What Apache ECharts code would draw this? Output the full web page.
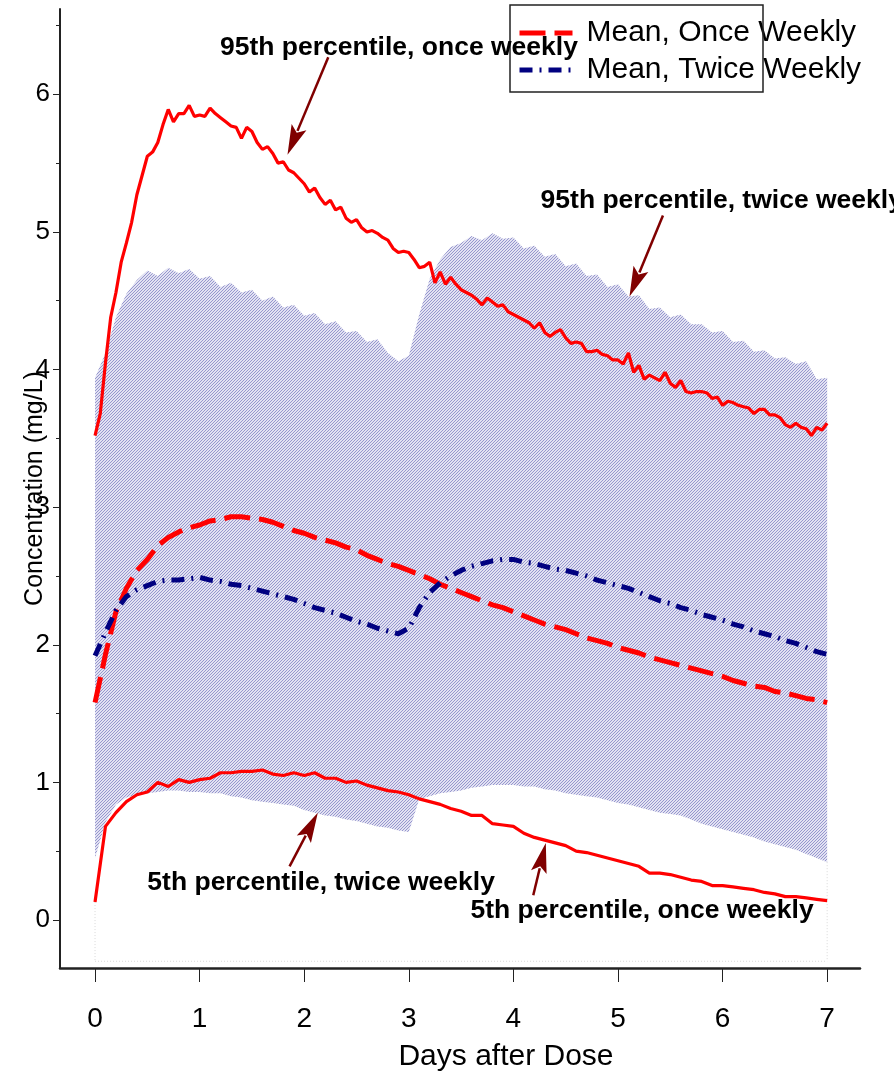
<!DOCTYPE html>
<html><head><meta charset="utf-8">
<script src="https://cdn.jsdelivr.net/npm/echarts@6/dist/echarts.min.js"></script>
<style>html,body{margin:0;padding:0;background:#fff}#c{width:894px;height:1072px}</style>
</head><body><div id="c"></div>
<script>
// ---------- DATA ----------
const days = [0,0.1,0.2,0.3,0.4,0.5,0.6,0.7,0.8,0.9,1,1.1,1.2,1.3,1.4,1.5,1.6,1.7,1.8,1.9,2,2.1,2.2,2.3,2.4,2.5,2.6,2.7,2.8,2.9,3,3.1,3.2,3.3,3.4,3.5,3.6,3.7,3.8,3.9,4,4.1,4.2,4.3,4.4,4.5,4.6,4.7,4.8,4.9,5,5.1,5.2,5.3,5.4,5.5,5.6,5.7,5.8,5.9,6,6.1,6.2,6.3,6.4,6.5,6.6,6.7,6.8,6.9,7];
const daysFine = [0,0.05,0.1,0.15,0.2,0.25,0.3,0.35,0.4,0.45,0.5,0.55,0.6,0.65,0.7,0.75,0.8,0.85,0.9,0.95,1,1.05,1.1,1.15,1.2,1.25,1.3,1.35,1.4,1.45,1.5,1.55,1.6,1.65,1.7,1.75,1.8,1.85,1.9,1.95,2,2.05,2.1,2.15,2.2,2.25,2.3,2.35,2.4,2.45,2.5,2.55,2.6,2.65,2.7,2.75,2.8,2.85,2.9,2.95,3,3.05,3.1,3.15,3.2,3.25,3.3,3.35,3.4,3.45,3.5,3.55,3.6,3.65,3.7,3.75,3.8,3.85,3.9,3.95,4,4.05,4.1,4.15,4.2,4.25,4.3,4.35,4.4,4.45,4.5,4.55,4.6,4.65,4.7,4.75,4.8,4.85,4.9,4.95,5,5.05,5.1,5.15,5.2,5.25,5.3,5.35,5.4,5.45,5.5,5.55,5.6,5.65,5.7,5.75,5.8,5.85,5.9,5.95,6,6.05,6.1,6.15,6.2,6.25,6.3,6.35,6.4,6.45,6.5,6.55,6.6,6.65,6.7,6.75,6.8,6.85,6.9,6.95,7];

// 95th percentile, once weekly (sampled every 0.05 day)
const p95Once = [3.52,3.68,4.05,4.38,4.56,4.78,4.92,5.07,5.27,5.41,
 5.55,5.58,5.65,5.78,5.89,5.80,5.86,5.86,5.92,5.84,
 5.85,5.84,5.90,5.86,5.83,5.80,5.77,5.76,5.68,5.76,
 5.73,5.65,5.60,5.62,5.57,5.50,5.51,5.45,5.43,5.39,
 5.35,5.29,5.32,5.25,5.20,5.23,5.16,5.18,5.10,5.07,
 5.09,5.03,5.00,5.01,4.99,4.96,4.94,4.88,4.85,4.86,
 4.85,4.80,4.74,4.75,4.78,4.63,4.71,4.62,4.67,4.62,
 4.58,4.56,4.54,4.51,4.47,4.52,4.49,4.46,4.47,4.42,
 4.40,4.38,4.36,4.34,4.30,4.34,4.27,4.24,4.27,4.29,
 4.23,4.19,4.20,4.19,4.13,4.13,4.14,4.11,4.10,4.07,
 4.07,4.04,4.12,3.98,4.03,3.93,3.96,3.94,3.92,3.98,
 3.90,3.87,3.92,3.84,3.83,3.84,3.84,3.83,3.79,3.80,
 3.74,3.77,3.76,3.74,3.73,3.72,3.68,3.71,3.71,3.67,
 3.67,3.65,3.60,3.58,3.61,3.58,3.57,3.52,3.58,3.56,
 3.61];

// 5th percentile, once weekly
const p5Once = [0.13,0.68,0.78,0.86,0.91,0.93,1.00,0.97,1.02,1.00,
 1.02,1.03,1.07,1.07,1.08,1.08,1.09,1.06,1.05,1.07,
 1.05,1.07,1.03,1.03,1.00,1.01,0.98,0.96,0.94,0.93,
 0.91,0.88,0.86,0.84,0.81,0.79,0.76,0.76,0.70,0.69,
 0.68,0.63,0.60,0.58,0.56,0.54,0.50,0.49,0.47,0.45,
 0.43,0.41,0.39,0.34,0.34,0.33,0.31,0.29,0.28,0.25,
 0.25,0.24,0.23,0.22,0.20,0.19,0.17,0.17,0.16,0.15,
 0.14];

// 5th / 95th percentile, twice weekly (shaded band)
const p5Twice = [0.45,0.71,0.84,0.89,0.91,0.92,0.93,0.94,0.94,0.93,
 0.93,0.92,0.92,0.90,0.89,0.87,0.86,0.85,0.84,0.83,
 0.80,0.78,0.76,0.75,0.73,0.72,0.70,0.68,0.67,0.65,
 0.64,0.88,0.90,0.92,0.93,0.94,0.96,0.97,0.98,0.98,
 0.98,0.97,0.97,0.95,0.94,0.92,0.91,0.90,0.89,0.87,
 0.85,0.84,0.82,0.80,0.78,0.77,0.76,0.73,0.70,0.68,
 0.66,0.64,0.62,0.60,0.57,0.55,0.53,0.51,0.48,0.45,
 0.42];
const p95Twice = [3.94,4.12,4.38,4.55,4.65,4.72,4.68,4.74,4.70,4.73,
 4.66,4.68,4.60,4.63,4.56,4.58,4.50,4.53,4.45,4.47,
 4.39,4.41,4.33,4.35,4.27,4.28,4.20,4.22,4.12,4.06,
 4.10,4.40,4.66,4.80,4.89,4.92,4.97,4.94,4.99,4.95,
 4.96,4.88,4.90,4.82,4.84,4.75,4.77,4.68,4.69,4.60,
 4.62,4.53,4.54,4.44,4.45,4.38,4.40,4.33,4.33,4.27,
 4.28,4.20,4.21,4.13,4.14,4.08,4.09,4.04,4.06,3.93,
 3.94];

// Means
const meanOnce = [1.58,1.93,2.24,2.41,2.54,2.62,2.72,2.78,2.82,2.85,
 2.87,2.90,2.91,2.93,2.93,2.92,2.91,2.89,2.86,2.83,
 2.81,2.78,2.76,2.74,2.71,2.69,2.65,2.62,2.59,2.57,
 2.54,2.51,2.48,2.44,2.41,2.38,2.35,2.32,2.29,2.27,
 2.24,2.21,2.18,2.15,2.13,2.11,2.08,2.05,2.03,2.01,
 1.98,1.96,1.94,1.91,1.89,1.87,1.85,1.83,1.81,1.79,
 1.77,1.74,1.72,1.70,1.69,1.66,1.65,1.63,1.61,1.60,
 1.58];
const meanTwice = [1.92,2.09,2.25,2.35,2.40,2.43,2.46,2.47,2.47,2.48,
 2.49,2.47,2.46,2.44,2.43,2.41,2.39,2.37,2.35,2.33,
 2.30,2.27,2.25,2.23,2.20,2.17,2.15,2.12,2.10,2.08,
 2.12,2.27,2.38,2.45,2.50,2.54,2.57,2.59,2.61,2.62,
 2.62,2.60,2.59,2.57,2.55,2.54,2.52,2.50,2.47,2.45,
 2.43,2.41,2.38,2.35,2.32,2.30,2.27,2.25,2.22,2.20,
 2.18,2.15,2.13,2.10,2.08,2.06,2.03,2.01,1.98,1.95,
 1.93];

// Ticks
const xTicks = [0,1,2,3,4,5,6,7];
const yTicks = [0,1,2,3,4,5,6];
const yMinorTicks = [0.5,1.5,2.5,3.5,4.5,5.5,6.5];

// Labels
const seriesNames = ['Mean, Once Weekly','Mean, Twice Weekly'];
const annoTexts = ['95th percentile, once weekly','95th percentile, twice weekly','5th percentile, twice weekly','5th percentile, once weekly'];
// annotation anchors in data coordinates [day, mg/L]
const annoTextAt = [[1.195,6.34],[4.26,5.23],[0.50,0.27],[3.59,0.07]];
const annoArrowFrom = [[2.23,6.27],[5.43,5.12],[1.86,0.39],[4.19,0.18]];
const annoArrowTo = [[1.84,5.56],[5.11,4.53],[2.13,0.78],[4.31,0.56]];

// ---------- CHART ----------
const FONT = '"Liberation Sans", Arial, Helvetica, sans-serif';
function pairs(xs, ys){ return xs.map((x,i)=>[x, ys[i]]); }

const hc = document.createElement('canvas'); hc.width = 3; hc.height = 3;
const hx = hc.getContext('2d');
hx.fillStyle = 'rgb(226,226,242)';
hx.fillRect(0, 0, 3, 3);
hx.fillStyle = 'rgb(150,150,206)';
for (let i = 0; i < 3; i++) hx.fillRect(i, 2 - i, 1, 1);
const hatch = {image: hc, repeat: 'repeat'};

const chart = echarts.init(document.getElementById('c'), null, {renderer: 'canvas'});
const yRange = {min: -0.349, max: 6.62};
const bandData = days.map((d, i) => [d, p5Twice[i], p95Twice[i]]);

chart.setOption({
  animation: false,
  backgroundColor: '#fff',
  grid: {left: 60, right: 34, top: 9, bottom: 104, containLabel: false, outerBoundsMode: 'none'},
  xAxis: {
    type: 'value', min: -0.335, max: 7.314,
    name: 'Days after Dose', nameLocation: 'middle', nameGap: 74, nameMoveOverlap: false,
    nameTextStyle: {fontSize: 30, color: '#000', fontFamily: FONT, padding: [0, 0, 0, 92]},
    axisLine: {show: true, onZero: false, lineStyle: {color: '#222', width: 2.5}},
    axisTick: {show: true, customValues: xTicks, length: 14, lineStyle: {color: '#222', width: 1}},
    axisLabel: {show: true, customValues: xTicks, fontSize: 28, color: '#000', margin: 37, fontFamily: FONT},
    splitLine: {show: false}
  },
  yAxis: [{
    type: 'value', min: yRange.min, max: yRange.max,
    name: 'Concentration (mg/L)', nameLocation: 'middle', nameGap: 12, nameRotate: 90, nameMoveOverlap: false,
    nameTextStyle: {fontSize: 25, color: '#000', fontFamily: FONT},
    axisLine: {show: true, onZero: false, lineStyle: {color: '#222', width: 2}},
    axisTick: {show: true, customValues: yTicks, length: 7, lineStyle: {color: '#222', width: 1}},
    axisLabel: {show: true, customValues: yTicks, fontSize: 26, color: '#000', margin: 10, fontFamily: FONT},
    splitLine: {show: false}
  }, {
    type: 'value', min: yRange.min, max: yRange.max, position: 'left',
    axisLine: {show: false, onZero: false},
    axisTick: {show: true, customValues: yMinorTicks, length: 4, lineStyle: {color: '#222', width: 1}},
    axisLabel: {show: false}, splitLine: {show: false}
  }],
  legend: {
    data: seriesNames, orient: 'vertical', left: 512, top: 13,
    itemWidth: 53, itemHeight: 14, itemGap: 7,
    itemStyle: {opacity: 0},
    lineStyle: {width: 5},
    textStyle: {fontSize: 30, color: '#000', fontFamily: FONT, padding: [0, 0, 0, 9]}
  },
  series: [
    {name: 'band', type: 'custom', data: bandData, silent: true, z: 1,
     renderItem: function (params, api) {
       if (params.dataIndex !== 0) return null;
       const pts = [];
       for (let i = 0; i < bandData.length; i++) pts.push(api.coord([bandData[i][0], bandData[i][2]]));
       for (let i = bandData.length - 1; i >= 0; i--) pts.push(api.coord([bandData[i][0], bandData[i][1]]));
       return {type: 'polygon', shape: {points: pts}, style: {fill: hatch}};
     }},
    {name: '95th percentile, once weekly', type: 'line', data: pairs(daysFine, p95Once), symbol: 'none',
     lineStyle: {color: '#ff0000', width: 3.2}, z: 3},
    {name: '5th percentile, once weekly', type: 'line', data: pairs(days, p5Once), symbol: 'none',
     lineStyle: {color: '#ff0000', width: 3.2}, z: 3},
    {name: seriesNames[0], type: 'line', data: pairs(days, meanOnce), symbol: 'none', itemStyle: {color: '#ff0000'},
     lineStyle: {color: '#ff0000', width: 5, type: [26, 9]}, z: 4},
    {name: seriesNames[1], type: 'line', data: pairs(days, meanTwice), symbol: 'none', itemStyle: {color: '#000080'},
     lineStyle: {color: '#000080', width: 5, type: [13, 7, 2, 7]}, z: 4}
  ]
});

// annotations & frame: positioned through the chart's own coordinate conversion
const g = [];
g.push({type: 'rect', shape: {x: 510, y: 5, width: 253, height: 87}, style: {fill: null, stroke: '#222', lineWidth: 1.5}, z: 50});
const c0a = chart.convertToPixel({gridIndex: 0}, [0, p5Once[0]]);
const c0b = chart.convertToPixel({gridIndex: 0}, [0, -0.3]);
const c7a = chart.convertToPixel({gridIndex: 0}, [7, p5Twice[p5Twice.length - 1]]);
const c7b = chart.convertToPixel({gridIndex: 0}, [7, -0.3]);
const dotted = {stroke: '#d8d8d8', lineWidth: 1, lineDash: [1, 2]};
g.push({type: 'line', shape: {x1: c0a[0], y1: c0a[1], x2: c0b[0], y2: c0b[1]}, style: dotted, z: 0});
g.push({type: 'line', shape: {x1: c7a[0], y1: c7a[1], x2: c7b[0], y2: c7b[1]}, style: dotted, z: 0});
g.push({type: 'line', shape: {x1: c0b[0], y1: c0b[1], x2: c7b[0], y2: c7b[1]}, style: dotted, z: 0});
for (let i = 0; i < annoTexts.length; i++) {
  const p = chart.convertToPixel({gridIndex: 0}, annoTextAt[i]);
  g.push({type: 'text', x: p[0], y: p[1], z: 60,
    style: {text: annoTexts[i], fill: '#000', font: 'bold 26.5px ' + FONT, textVerticalAlign: 'middle', textAlign: 'left'}});
  const a = chart.convertToPixel({gridIndex: 0}, annoArrowFrom[i]);
  const b = chart.convertToPixel({gridIndex: 0}, annoArrowTo[i]);
  const dx = b[0] - a[0], dy = b[1] - a[1], len = Math.hypot(dx, dy);
  const ux = dx / len, uy = dy / len, L = 30, hw = 8;
  const bx = b[0] - ux * L, by = b[1] - uy * L;
  g.push({type: 'line', shape: {x1: a[0], y1: a[1], x2: bx + ux * 4, y2: by + uy * 4}, style: {stroke: '#800000', lineWidth: 2.5}, z: 55});
  g.push({type: 'polygon', shape: {points: [[b[0], b[1]], [bx - uy * hw, by + ux * hw], [bx + ux * 6, by + uy * 6], [bx + uy * hw, by - ux * hw]]},
    style: {fill: '#800000'}, z: 55});
}
chart.setOption({graphic: g});
</script></body></html>
